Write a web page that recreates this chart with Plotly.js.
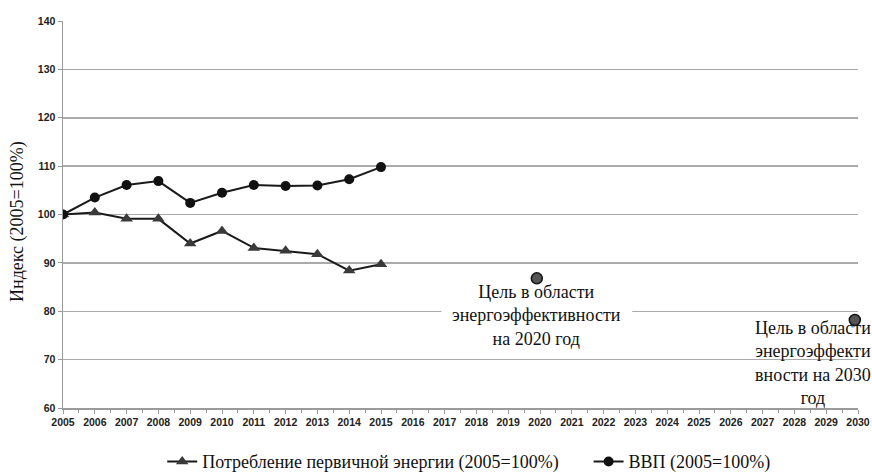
<!DOCTYPE html>
<html>
<head>
<meta charset="utf-8">
<script src="https://cdn.plot.ly/plotly-3.0.1.min.js"></script>
<style>html,body{margin:0;padding:0;background:#fff;}#chart{width:872px;height:476px;}</style>
</head>
<body>
<div id="chart"></div>
<script>
const years = [2005, 2006, 2007, 2008, 2009, 2010, 2011, 2012, 2013, 2014, 2015];
const energyValues = [100, 100.4, 99.1, 99.1, 94.0, 96.6, 93.1, 92.5, 91.8, 88.4, 89.7];
const gdpValues = [100, 103.5, 106.1, 106.9, 102.4, 104.5, 106.1, 105.9, 106.0, 107.3, 109.8];
const targetYears = [2019.9, 2029.9];
const targetValues = [86.8, 78.2];
const tickYears = [2005,2006,2007,2008,2009,2010,2011,2012,2013,2014,2015,2016,2017,2018,2019,2020,2021,2022,2023,2024,2025,2026,2027,2028,2029,2030];
const energyName = 'Потребление первичной энергии (2005=100%)';
const gdpName = 'ВВП (2005=100%)';
const yTitle = 'Индекс (2005=100%)';
const target2020Text = 'Цель в области<br>энергоэффективности<br>на 2020 год';
const target2030Text = 'Цель в области<br>энергоэффекти<br>вности на 2030<br>год';

const serif = '"Liberation Serif", "DejaVu Serif", serif';
const sans = '"Liberation Sans", Arial, sans-serif';

const traces = [
  {
    x: years, y: energyValues, name: energyName, type: 'scatter', mode: 'lines+markers',
    line: {color: '#1a1a1a', width: 2},
    marker: {symbol: 'triangle-up', size: 11, color: '#3a3a3a'},
    legend: 'legend'
  },
  {
    x: years, y: gdpValues, name: gdpName, type: 'scatter', mode: 'lines+markers',
    line: {color: '#1a1a1a', width: 2},
    marker: {symbol: 'circle', size: 10, color: '#111'},
    legend: 'legend2'
  },
  {
    x: targetYears, y: targetValues, type: 'scatter', mode: 'markers', showlegend: false,
    cliponaxis: false,
    marker: {symbol: 'circle', size: 11, color: '#555', line: {color: '#111', width: 1.5}}
  }
];

const layout = {
  width: 872, height: 476,
  margin: {l: 63, r: 14, t: 21, b: 68},
  paper_bgcolor: '#fff', plot_bgcolor: '#fff',
  showlegend: true,
  xaxis: {
    range: [2005, 2030], tickvals: tickYears, ticktext: tickYears.map(String),
    showgrid: false, zeroline: false,
    showline: true, linecolor: '#9a9a9a', linewidth: 1.5,
    ticks: 'outside', ticklen: 4, tickcolor: '#9a9a9a', tickwidth: 1,
    minor: {tickvals: tickYears.slice(0, -1).map(v => v + 0.5), ticks: 'outside', ticklen: 3, tickcolor: '#9a9a9a'},
    tickfont: {family: sans, size: 10.5, color: '#222', weight: 'bold'},
    tickangle: 0, fixedrange: true, automargin: false
  },
  yaxis: {
    range: [60, 140], dtick: 10, tick0: 60,
    showgrid: true, gridcolor: '#aaaaaa', gridwidth: 1.5,
    zeroline: false, showline: true, linecolor: '#9a9a9a', linewidth: 1.5,
    ticks: 'outside', ticklen: 4, tickcolor: '#9a9a9a',
    tickfont: {family: sans, size: 10.5, color: '#222', weight: 'bold'},
    fixedrange: true, automargin: false
  },
  legend: {
    orientation: 'h', xref: 'container', yref: 'container', x: 0.186, xanchor: 'left', y: 0.03, yanchor: 'middle',
    font: {family: serif, size: 18, color: '#111'}, bgcolor: 'rgba(0,0,0,0)'
  },
  legend2: {
    orientation: 'h', xref: 'container', yref: 'container', x: 0.675, xanchor: 'left', y: 0.03, yanchor: 'middle',
    font: {family: serif, size: 18, color: '#111'}, bgcolor: 'rgba(0,0,0,0)'
  },
  shapes: [
    {type: 'rect', layer: 'between', xref: 'x', yref: 'y', x0: 2016.9, x1: 2022.9, y0: 71.9, y1: 82.3,
     fillcolor: '#fff', line: {width: 0}},
    {type: 'rect', layer: 'between', xref: 'x', yref: 'paper', x0: 2026.4, x1: 2031, y0: 0.01, y1: 0.235,
     fillcolor: '#fff', line: {width: 0}}
  ],
  annotations: [
    {
      x: 2019.9, y: 79.1, xref: 'x', yref: 'y', text: target2020Text, showarrow: false,
      xanchor: 'center', yanchor: 'middle', align: 'center',
      font: {family: serif, size: 18, color: '#111'}
    },
    {
      x: 2028.6, y: 69.2, xref: 'x', yref: 'y', text: target2030Text, showarrow: false,
      xanchor: 'center', yanchor: 'middle', align: 'center',
      font: {family: serif, size: 18, color: '#111'}
    },
    {
      x: -0.058, y: 0.483, xref: 'paper', yref: 'paper', text: yTitle, showarrow: false,
      textangle: -90, xanchor: 'center', yanchor: 'middle',
      font: {family: serif, size: 18, color: '#111'}
    }
  ]
};

Plotly.newPlot('chart', traces, layout, {displayModeBar: false, staticPlot: true});
</script>
</body>
</html>
